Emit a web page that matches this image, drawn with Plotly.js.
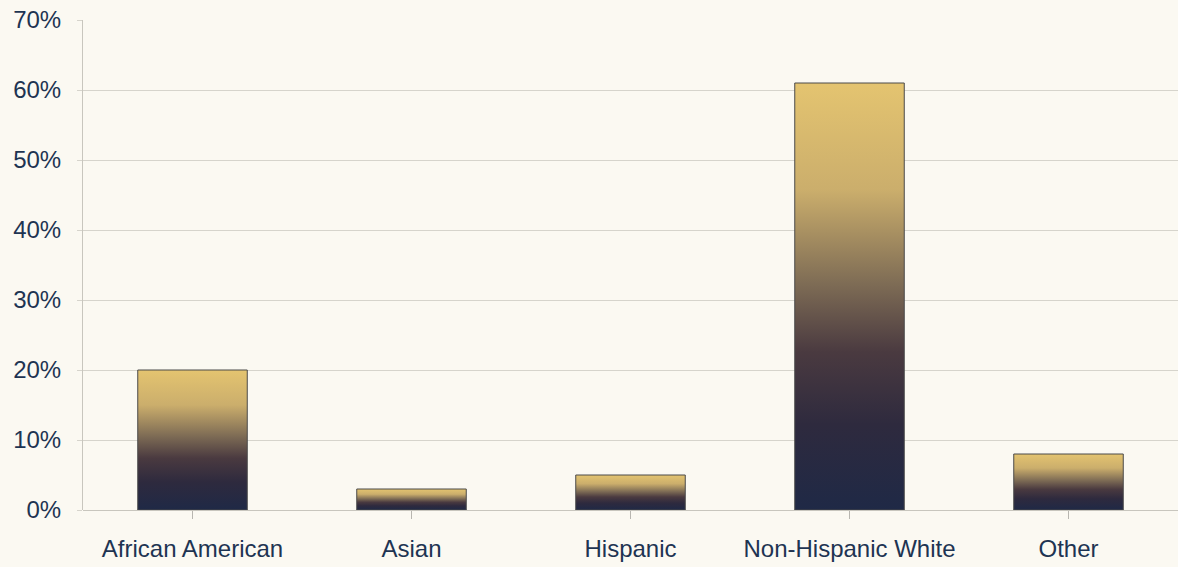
<!DOCTYPE html>
<html>
<head>
<meta charset="utf-8">
<script src="https://cdn.plot.ly/plotly-3.0.1.min.js"></script>
<style>
  html, body { margin: 0; padding: 0; background: #fbf9f2; }
  #chart { width: 1178px; height: 567px; }
</style>
</head>
<body>
<div id="chart"></div>
<script>
// Share of population by race / ethnicity (percent)
const categories = ['African American', 'Asian', 'Hispanic', 'Non-Hispanic White', 'Other'];
const shares = [20, 3, 5, 61, 8];

const textColor = '#1e3452';
const gridColor = '#d6d4cc';

const trace = {
  type: 'bar',
  x: categories,
  y: shares,
  marker: { color: '#6a5a48', line: { color: '#4a4a4a', width: 1 } },
  hoverinfo: 'skip'
};

const layout = {
  width: 1178,
  height: 567,
  margin: { l: 83, r: 0, t: 20, b: 57 },
  paper_bgcolor: '#fbf9f2',
  plot_bgcolor: '#fbf9f2',
  bargap: 0.5,
  showlegend: false,
  font: { family: 'Liberation Sans, Arial, sans-serif', size: 24, color: textColor },
  xaxis: {
    type: 'category',
    showgrid: false,
    showline: false,
    zeroline: false,
    ticks: 'outside',
    ticklen: 8,
    tickcolor: '#b8b6b0',
    ticklabelstandoff: 9,
    tickfont: { size: 24, color: textColor }
  },
  yaxis: {
    range: [0, 70],
    dtick: 10,
    ticksuffix: '%',
    showgrid: true,
    gridcolor: gridColor,
    gridwidth: 1,
    zeroline: true,
    zerolinecolor: '#c8c6be',
    zerolinewidth: 1,
    showline: true,
    linecolor: '#c8c6be',
    linewidth: 1,
    ticks: 'outside',
    ticklen: 5,
    tickcolor: gridColor,
    ticklabelstandoff: 11,
    tickfont: { size: 24, color: textColor }
  }
};

// Vertical gold-to-navy fill applied to every bar after render
function applyBarGradient(gd) {
  const svg = gd.querySelector('svg.main-svg');
  const ns = 'http://www.w3.org/2000/svg';
  let defs = svg.querySelector('defs');
  if (!defs) { defs = document.createElementNS(ns, 'defs'); svg.insertBefore(defs, svg.firstChild); }
  const grad = document.createElementNS(ns, 'linearGradient');
  grad.setAttribute('id', 'barFill');
  grad.setAttribute('x1', '0'); grad.setAttribute('y1', '0');
  grad.setAttribute('x2', '0'); grad.setAttribute('y2', '1');
  const stops = [
    ['0', '#e4c470'],
    ['0.25', '#cbae6c'],
    ['0.47', '#7e6c55'],
    ['0.63', '#4a3a40'],
    ['0.8', '#2e2a3e'],
    ['1', '#1f2946']
  ];
  stops.forEach(([o, c]) => {
    const s = document.createElementNS(ns, 'stop');
    s.setAttribute('offset', o);
    s.setAttribute('stop-color', c);
    grad.appendChild(s);
  });
  defs.appendChild(grad);
  gd.querySelectorAll('.bars .point path').forEach(p => {
    p.style.fill = 'url(#barFill)';
    p.style.fillOpacity = 1;
  });
}

const gd = document.getElementById('chart');
Plotly.newPlot(gd, [trace], layout, { displayModeBar: false, staticPlot: true })
  .then(() => applyBarGradient(gd));
</script>
</body>
</html>
